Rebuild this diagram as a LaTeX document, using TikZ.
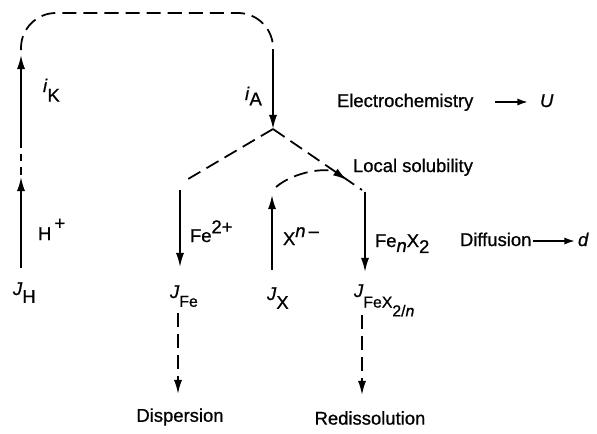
\documentclass[tikz,border=0pt]{standalone}
\usepackage{fontspec}
\setmainfont{Liberation Sans}[FakeBold=0.8]
\usetikzlibrary{arrows.meta}
\newcommand{\mysub}[2][4.5pt]{\raisebox{-#1}{#2}}
\newcommand{\mysup}[2][5pt]{\raisebox{#1}{#2}}
\newcommand{\smallf}{\fontsize{9}{10}\selectfont}
\begin{document}
\begin{tikzpicture}[x=0.02cm,y=-0.02cm,
  lbl/.style={inner sep=0pt,outer sep=0pt,font=\fontsize{10.5}{12}\selectfont},
  ln/.style={line width=1pt},
  dsh/.style={line width=1pt,dash pattern=on 8pt off 4pt},
  sdsh/.style={line width=1pt,dash pattern=on 4.5pt off 3.2pt},
  arr/.style={-{Latex[length=8pt,width=4.6pt]}},
  sarr/.style={line width=1pt,-{Latex[length=6pt,width=4pt]}}]
\useasboundingbox (0,0) rectangle (597,433);
% text nodes
\node[lbl,anchor=base west] (JH) at (13,295) {\textit{J}\mysub{H}};
\node[lbl,anchor=base west] (JFe) at (170,298) {\textit{J}\mysub[5pt]{\smallf Fe}};
\node[lbl,anchor=base west] (JX) at (267,300) {\textit{J}\mysub[5pt]{X}};
\node[lbl,anchor=base west] (JFeX) at (354,297) {\textit{J}\mysub[6pt]{\smallf FeX\mysub[5pt]{2/\textit{n}}}};
\node[lbl] (disp) at (180,417) {Dispersion};
\node[lbl] (redis) at (370,418) {Redissolution};
\node[lbl,anchor=base west] (ec) at (337,107) {Electrochemistry};
\node[lbl,anchor=base west] (U) at (540,107) {\textit{U}};
\node[lbl,anchor=base west] (loc) at (353,172) {Local solubility};
\node[lbl,anchor=base west] (dif) at (460,246) {Diffusion};
\node[lbl,anchor=base west] (d) at (578,246) {\textit{d}};
\node[lbl,anchor=base west] (iK) at (43,92) {\textit{i}\mysub[5.5pt]{K}};
\node[lbl,anchor=base west] (iA) at (245,100) {\textit{i}\mysub[3pt]{A}};
\node[lbl,anchor=base west] (Hp) at (38,240) {H\mysup[6pt]{\,+}};
\node[lbl,anchor=base west] (Fe2) at (190,242) {Fe\mysup[5pt]{2+}};
\node[lbl,anchor=base west] (Xn) at (283,245) {X\mysup[4.5pt]{\textit{n}\,\textendash}};
\node[lbl,anchor=base west] (FenX) at (375,247) {Fe\mysub[2.8pt]{\textit{n}}X\mysub[3.4pt]{2}};
% coordinates
\coordinate (hbot) at (21,268);
\coordinate (hmid) at (21,177);
\coordinate (hdash) at (21,140);
\coordinate (htop) at (21,55);
\coordinate (lstart) at (21,50);
\coordinate (ltop) at (21,13);
\coordinate (rtop) at (273,13);
\coordinate (rend) at (273,57);
\coordinate (aTip) at (273,129);
\coordinate (lBr) at (183,182);
\coordinate (rBr) at (362,190);
\coordinate (feTop) at (180,190);
\coordinate (feTip) at (180,267);
\coordinate (xBot) at (272,270);
\coordinate (xTip) at (272,195);
\coordinate (arcS) at (276,187);
\coordinate (arcE) at (347,180);
\coordinate (fnTop) at (365,192);
\coordinate (fnTip) at (365,272);
\coordinate (dTop) at (178,313);
\coordinate (dTip) at (178,394);
\coordinate (rTop) at (362,315);
\coordinate (rTip) at (362,395);
\coordinate (ecA) at (495,102);
\coordinate (ecB) at (528,102);
\coordinate (dfA) at (533,241);
\coordinate (dfB) at (575,241);
% connectors
\draw[ln,arr] (hbot) -- (hmid);
\draw[sdsh] (hdash) -- (hmid);
\draw[ln,arr] (hdash) -- (htop);
\draw[dsh,rounded corners=0.7cm] (lstart) -- (ltop) -- (rtop) -- (rend);
\draw[ln,arr] (rend) -- (aTip);
\draw[dsh] (aTip) -- (lBr);
\draw[dsh] (aTip) -- (rBr);
\draw[ln,arr] (feTop) -- (feTip);
\draw[ln,arr] (xBot) -- (xTip);
\draw[dsh,arr] (arcS) .. controls (295,171) and (328,167) .. (arcE);
\draw[ln,arr] (fnTop) -- (fnTip);
\draw[dsh,arr] (dTop) -- (dTip);
\draw[dsh,arr] (rTop) -- (rTip);
\draw[sarr] (ecA) -- (ecB);
\draw[sarr] (dfA) -- (dfB);
\end{tikzpicture}
\end{document}
